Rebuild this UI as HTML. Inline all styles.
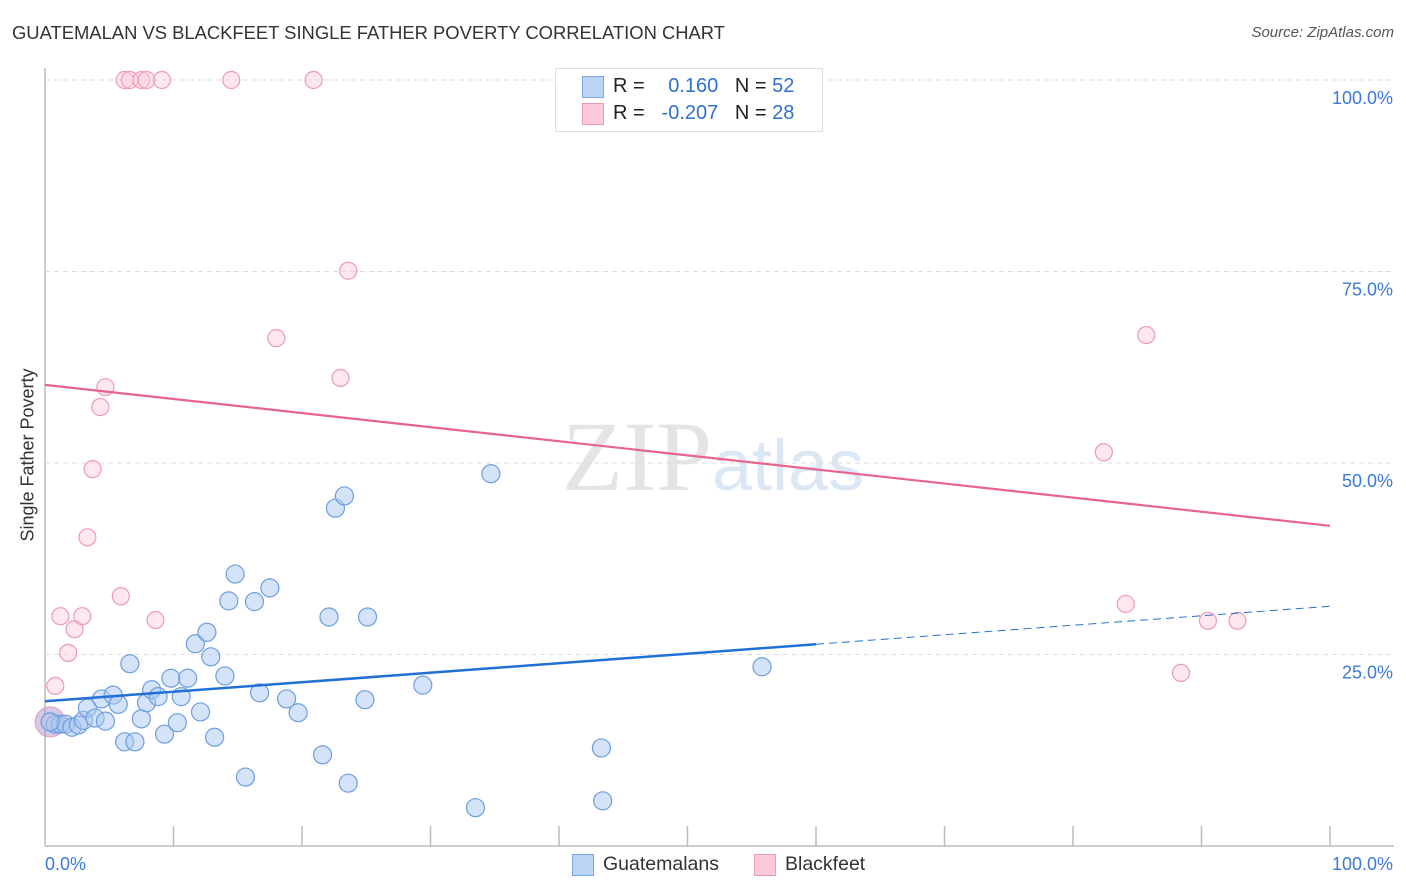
<!DOCTYPE html>
<html><head><meta charset="utf-8">
<style>
body{margin:0;background:#fff;font-family:"Liberation Sans",sans-serif;}
#wrap{position:relative;width:1406px;height:892px;overflow:hidden;}
.t{position:absolute;white-space:nowrap;}
</style></head><body>
<div id="wrap">
<div class="t" style="left:12px;top:22px;font-size:18.4px;color:#333;">GUATEMALAN VS BLACKFEET SINGLE FATHER POVERTY CORRELATION CHART</div>
<div class="t" style="right:12px;top:24px;font-size:15px;color:#555;font-style:italic;">Source: ZipAtlas.com</div>
<svg id="plot" width="1406" height="892" style="position:absolute;left:0;top:0">
<text x="712" y="490" font-size="100" font-family="Liberation Serif" fill="#e4e4e4" text-anchor="end">ZIP</text>
<text x="712" y="490" font-size="72" font-family="Liberation Sans" fill="#dbe7f5">atlas</text>
</svg>
<div class="t" style="left:18px;top:455px;transform:translate(-50%,-50%) rotate(-90deg);transform-origin:center;font-size:18px;color:#333;margin-left:10px;">Single Father Poverty</div>
<div style="position:absolute;left:555px;top:68px;width:266px;height:62px;border:1px solid #ddd;background:#fff;">
 <div style="position:absolute;left:26px;top:7px;width:20px;height:20px;background:#bcd5f5;border:1px solid #7aa7e0"></div>
 <div class="t" style="left:57px;top:6px;font-size:20px;color:#222">R = <span style="color:#2f6fd1;display:inline-block;width:68px;text-align:right">0.160</span>&nbsp;&nbsp;&nbsp;N = <span style="color:#2f6fd1">52</span></div>
 <div style="position:absolute;left:26px;top:34px;width:20px;height:20px;background:#fcc9d8;border:1px solid #ee9ab3"></div>
 <div class="t" style="left:57px;top:33px;font-size:20px;color:#222">R = <span style="color:#2f6fd1;display:inline-block;width:68px;text-align:right">-0.207</span>&nbsp;&nbsp;&nbsp;N = <span style="color:#2f6fd1">28</span></div>
</div>
<div style="position:absolute;left:572px;top:854px;width:20px;height:20px;background:#bcd5f5;border:1px solid #7aa7e0"></div>
<div class="t" style="left:603px;top:853px;font-size:19.5px;color:#333">Guatemalans</div>
<div style="position:absolute;left:754px;top:854px;width:20px;height:20px;background:#fcc9d8;border:1px solid #ee9ab3"></div>
<div class="t" style="left:785px;top:853px;font-size:19.5px;color:#333">Blackfeet</div>
</div>
<script>
const blueX=[0.8,1.2,1.6,2.1,2.6,3.0,3.3,3.9,4.4,4.7,5.3,5.7,6.2,6.6,7.0,7.5,7.9,8.3,8.8,9.3,9.8,10.3,10.6,11.1,11.7,12.1,12.6,12.9,13.2,14.0,14.3,14.8,15.6,16.3,16.7,17.5,18.8,19.7,21.6,22.1,22.6,23.3,23.6,24.9,25.1,29.4,33.5,34.7,43.3,43.4,55.8,0.4];
const blueY=[15.9,15.9,15.9,15.5,15.8,16.4,18.0,16.7,19.2,16.3,19.7,18.5,13.6,23.8,13.6,16.6,18.7,20.4,19.5,14.6,21.9,16.1,19.5,21.9,26.4,17.5,27.9,24.7,14.2,22.2,32.0,35.5,9.0,31.9,20.0,33.7,19.2,17.4,11.9,29.9,44.1,45.7,8.2,19.1,29.9,21.0,5.0,48.6,12.8,5.9,23.4,16.2];
const pinkX=[0.8,1.2,1.8,2.3,2.9,3.3,3.7,4.3,4.7,5.9,6.2,6.6,7.5,7.9,8.6,9.1,14.5,18.0,20.9,23.0,23.6,82.4,84.1,85.7,90.5,92.8,88.4,0.4];
const pinkY=[20.9,30.0,25.2,28.3,30.0,40.3,49.2,57.3,59.9,32.6,100,100,100,100,29.5,100,100,66.3,100,61.1,75.1,51.4,31.6,66.7,29.4,29.4,22.6,16.2];
const blueTrend=[18.9,31.3], pinkTrend=[60.2,41.8];
const yTicks=[25,50,75,100], yTickLabels=["25.0%","50.0%","75.0%","100.0%"];
const X=v=>45+v*12.85, Y=v=>846-v*7.66;
const NS="http://www.w3.org/2000/svg", svg=document.getElementById('plot');
function mk(tag,attrs){const e=document.createElementNS(NS,tag);for(const k in attrs)e.setAttribute(k,attrs[k]);svg.appendChild(e);return e;}
let ax=mk('line',{x1:45,y1:68,x2:45,y2:846,stroke:'#bbb','stroke-width':1.5});

let bx=mk('line',{x1:45,y1:846,x2:1394,y2:846,stroke:'#bbb','stroke-width':1.5});

for(let i=1;i<=10;i++){let t=mk('line',{x1:X(i*10),y1:826,x2:X(i*10),y2:846,stroke:'#bbb','stroke-width':1.5});
}
yTicks.forEach((v,i)=>{let g=mk('line',{x1:45,y1:Y(v),x2:1394,y2:Y(v),stroke:'#ddd','stroke-dasharray':'5,4'});

let t=mk('text',{x:1393,y:Y(v)+24,'text-anchor':'end','font-size':18,fill:'#3b7ad9'});t.textContent=yTickLabels[i];
});
let xl=mk('text',{x:45,y:870,'font-size':18,fill:'#3b7ad9'});xl.textContent='0.0%';

let xr=mk('text',{x:1393,y:870,'font-size':18,fill:'#3b7ad9','text-anchor':'end'});xr.textContent='100.0%';

let big=mk('circle',{cx:X(0.4),cy:Y(16.2),r:15,fill:'rgba(170,150,210,0.5)',stroke:'#e89ab5'});

pinkX.forEach((x,i)=>{let c=mk('circle',{cx:X(x),cy:Y(pinkY[i]),r:8.5,fill:'rgba(252,201,216,0.45)',stroke:'#ee9ab3','stroke-width':1.2});
});
blueX.forEach((x,i)=>{let c=mk('circle',{cx:X(x),cy:Y(blueY[i]),r:9,fill:'rgba(170,200,240,0.5)',stroke:'#6d9ee0','stroke-width':1.2});
});
const by=x=>blueTrend[0]+(blueTrend[1]-blueTrend[0])*x/100;
let bl=mk('line',{x1:X(0),y1:Y(by(0)),x2:X(60),y2:Y(by(60)),stroke:'#2170d6','stroke-width':2.5});

let bd=mk('line',{x1:X(60),y1:Y(by(60)),x2:X(100),y2:Y(by(100)),stroke:'#2170d6','stroke-width':1,'stroke-dasharray':'8,5'});

let pl=mk('line',{x1:X(0),y1:Y(pinkTrend[0]),x2:X(100),y2:Y(pinkTrend[1]),stroke:'#e8648f','stroke-width':2.2});

</script>
</body></html>
